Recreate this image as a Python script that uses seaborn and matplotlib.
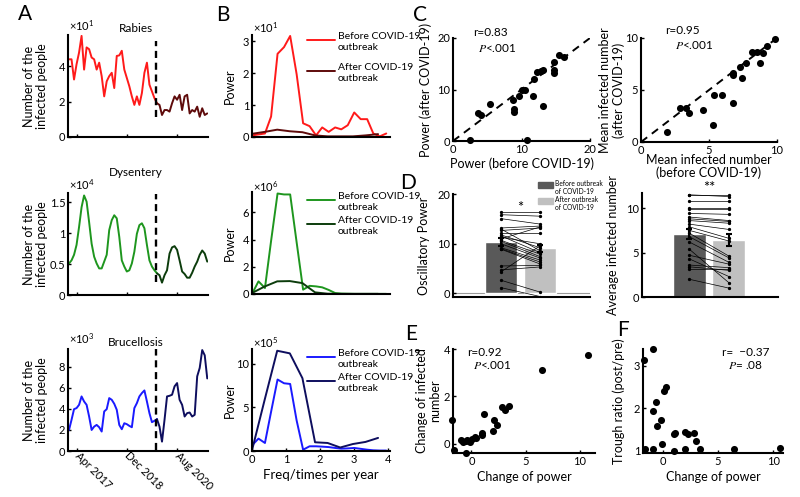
import pandas as pd
import seaborn as sns
import matplotlib.pyplot as plt
from matplotlib.lines import Line2D
from matplotlib.patches import Rectangle

W, H = 800, 497

# A: monthly infected numbers, Jan 2017 .. Aug 2021
months = list(range(56))
split = 35          # first month plotted in the "after" colour
onset = 34.6        # COVID-19 outbreak
month_ticks = [3, 23, 43]
month_labels = ['Apr 2017', 'Dec 2018', 'Aug 2020']

rabies = [4.38, 4.38, 3.24, 4.1, 4.76, 5.7, 3.8, 5.05, 4.95, 4.48, 4.38, 3.8, 4.19, 3.43,
          2.29, 3.14, 3.43, 3.62, 2.76, 4.57, 4.6, 4.86, 3.8, 3.33, 2.86, 2.29, 1.81, 2.29,
          1.81, 2.48, 3.62, 4.19, 2.95, 2.57, 2.19, 1.9,
          1.81, 1.24, 1.52, 1.52, 1.43, 1.9, 2.29, 2.1, 2.38, 1.52, 2.29, 2.38, 1.33, 1.52,
          1.43, 1.71, 1.14, 1.62, 1.24, 1.33]
dysentery = [0.51, 0.56, 0.65, 0.81, 1.10, 1.42, 1.61, 1.51, 1.18, 0.83, 0.62, 0.51, 0.43,
             0.43, 0.54, 0.65, 1.05, 1.21, 1.29, 1.24, 0.94, 0.56, 0.46, 0.38, 0.40, 0.51,
             0.70, 0.99, 1.13, 1.16, 1.08, 0.81, 0.56, 0.46, 0.40, 0.35,
             0.32, 0.20, 0.32, 0.40, 0.67, 0.77, 0.79, 0.73, 0.56, 0.38, 0.34, 0.28, 0.28,
             0.36, 0.46, 0.54, 0.65, 0.72, 0.67, 0.54]
brucellosis = [2.0, 2.96, 3.98, 4.08, 4.39, 5.19, 4.71, 4.39, 3.28, 2.0, 2.32, 2.48, 2.26,
               1.85, 3.76, 3.98, 5.03, 4.87, 4.49, 3.92, 2.48, 2.07, 2.64, 2.55, 2.39, 2.26,
               4.08, 4.55, 5.19, 5.51, 5.76, 4.71, 3.6, 2.74, 2.87, 3.03,
               2.32, 0.89, 2.96, 5.19, 5.25, 5.35, 6.15, 6.46, 4.87, 4.39, 3.28, 3.6, 3.66,
               3.28, 3.44, 7.1, 7.9, 9.6, 9.1, 6.9]

# B: power spectra (freq in times per year)
freq_pre = [0.0, 0.19, 0.38, 0.56, 0.75, 0.94, 1.12, 1.31, 1.5, 1.69, 1.88, 2.06, 2.25,
            2.44, 2.62, 2.81, 3.0, 3.19, 3.38, 3.56, 3.75, 3.94]
freq_post = [0.0, 0.37, 0.74, 1.11, 1.48, 1.85, 2.22, 2.59, 2.96, 3.33, 3.7]
rab_pw_pre = [0.05, 0.08, 0.11, 0.64, 2.61, 2.82, 3.17, 1.97, 0.43, 0.34, 0.05, 0.30, 0.16,
              0.30, 0.24, 0.37, 0.77, 0.56, 0.56, 0.11, 0.02, 0.11]
rab_pw_post = [0.10, 0.16, 0.23, 0.18, 0.15, 0.05, 0.02, 0.02, 0.02, 0.05, 0.09]
dys_pw_pre = [0.0, 0.93, 0.44, 3.9, 7.39, 7.32, 7.32, 3.8, 0.32, 0.6, 0.56, 0.49, 0.3,
              0.07, 0.03, 0.02, 0.01, 0.01, 0.01, 0.01, 0.01, 0.01]
dys_pw_post = [0.07, 0.55, 0.93, 0.95, 0.8, 0.12, 0.02, 0.01, 0.01, 0.01, 0.01]
bru_pw_pre = [0.65, 1.42, 0.92, 4.5, 8.2, 7.77, 7.69, 3.5, 0.15, 0.54, 0.54, 0.5, 0.45,
              0.35, 0.27, 0.3, 0.35, 0.25, 0.15, 0.08, 0.05, 0.05]
bru_pw_post = [0.08, 5.85, 11.5, 11.2, 8.35, 1.0, 0.92, 0.4, 0.8, 1.04, 1.5]

# C: per-disease comparison before / after
pw_before = [2.44, 3.66, 4.15, 5.46, 8.78, 8.88, 8.88, 9.66, 10.0, 10.5, 10.8, 11.7, 11.8,
             12.3, 12.8, 13.2, 13.2, 14.8, 14.8, 14.8, 15.5, 16.2]
pw_after = [0.26, 5.4, 5.07, 7.24, 8.0, 6.2, 5.6, 8.7, 9.9, 10.0, 0.26, 8.8, 12.1, 13.4,
            13.6, 13.8, 6.8, 13.8, 13.2, 15.4, 16.7, 16.4]
mean_before = [1.91, 2.84, 3.33, 3.5, 4.56, 5.29, 5.39, 5.96, 6.76, 6.76, 6.76, 7.3, 7.43,
               7.75, 8.16, 8.53, 8.73, 8.97, 9.26, 9.88]
mean_after = [0.98, 3.26, 3.26, 2.83, 3.09, 1.63, 4.5, 4.5, 3.75, 6.42, 6.61, 7.17, 6.12,
              7.59, 8.63, 8.63, 7.59, 8.53, 9.22, 9.93]

# D: paired bars
groups = ['Before outbreak\nof COVID-19', 'After outbreak\nof COVID-19']
osc_pre = [16.4, 15.9, 15.1, 13.2, 12.7, 12.2, 11.8, 11.6, 11.0, 10.7, 10.5, 10.0, 9.2,
           8.9, 5.5, 4.7, 4.3, 2.6, 1.1, 13.0, 9.0, 11.3]
osc_post = [16.4, 15.6, 14.0, 13.6, 13.2, 12.2, 9.2, 8.2, 13.4, 7.9, 7.4, 7.1, 6.7, 5.9,
            5.6, 5.3, 9.6, 0.2, -0.7, 8.6, 6.3, 10.0]
osc_mean = [10.4, 9.1]
osc_sem = [0.8, 0.75]
avg_pre = [11.5, 10.8, 10.0, 9.4, 9.0, 8.8, 8.6, 8.2, 7.9, 7.5, 7.2, 6.8, 6.2, 5.4, 4.7,
           4.3, 3.6, 3.4, 3.1, 2.0, 11.5, 9.9]
avg_post = [11.5, 10.8, 10.0, 9.3, 8.6, 8.5, 8.3, 7.6, 6.6, 6.3, 4.6, 4.4, 3.9, 1.6, 3.7,
            2.3, 3.3, 3.0, 3.1, 1.0, 11.3, 9.9]
avg_mean = [7.1, 6.4]
avg_sem = [0.6, 0.65]

# E, F
e_dpower = [-1.75, -1.63, -0.92, -0.77, -0.52, -0.46, -0.4, -0.15, 0.09, 0.37, 0.4, 1.02,
            1.02, 1.14, 2.0, 2.06, 2.37, 2.86, 3.08, 3.48, 6.55, 10.77]
e_dinfected = [0.99, -0.25, 0.14, 0.06, 0.1, -0.37, 0.14, 0.06, 0.2, 0.28, 0.24, 0.38,
               0.45, 1.27, 0.55, 1.01, 0.8, 1.55, 1.44, 1.61, 3.1, 3.76]
f_dpower = [-1.76, -1.67, -0.91, -0.91, -0.91, -0.61, -0.52, -0.21, -0.09, 0.06, 0.3, 0.97,
            1.06, 1.0, 1.97, 1.97, 2.27, 2.79, 3.03, 3.33, 6.42, 10.6]
f_trough = [3.13, 1.04, 3.4, 1.04, 1.94, 2.15, 1.57, 1.71, 1.16, 2.41, 2.51, 1.4, 1.41,
            0.98, 1.04, 1.44, 1.38, 1.42, 1.22, 1.04, 1.04, 1.06]

RED, DRED = '#ff1a1a', '#5e0a0a'
GRN, DGRN = '#1e961e', '#0c3c0c'
BLU, DBLU = '#1a1aff', '#0e0e5e'
BAR_DARK, BAR_LIGHT = '#595959', '#c0c0c0'
LAB = 9

sns.set_style('ticks')
plt.rcParams['font.family'] = ['Lato', 'DejaVu Sans']
plt.rcParams.update({
    'mathtext.fontset': 'stix',
    'axes.linewidth': 1.5, 'axes.edgecolor': 'black',
    'text.color': 'black', 'axes.labelcolor': 'black',
    'xtick.color': 'black', 'ytick.color': 'black',
    'xtick.direction': 'in', 'ytick.direction': 'in',
    'xtick.major.size': 2.5, 'ytick.major.size': 2.5,
    'xtick.major.width': 1, 'ytick.major.width': 1,
    'xtick.major.pad': 2, 'ytick.major.pad': 2,
    'xtick.labelsize': 8, 'ytick.labelsize': 8,
    'font.size': 9, 'axes.labelsize': LAB,
})

fig = plt.figure(figsize=(8, 4.97), dpi=100)


def px_axes(l, t, r, b):
    return fig.add_axes([l / W, 1 - b / H, (r - l) / W, (b - t) / H])


def ftext(x, y, s, **kw):
    return fig.text(x / W, 1 - y / H, s, **kw)


def ylab(ax, text, x, **kw):
    ax.set_ylabel(text, linespacing=1.1, **kw)
    ax.yaxis.set_label_coords(x, 0.5)


# ---------- A ----------
a_rows = [
    (rabies, RED, DRED, 35, 137, 5.75, [0, 2, 4], ['0', '2', '4'], (1.1, 5.4),
     'Rabies', 28, '1', 26),
    (dysentery, GRN, DGRN, 193, 295, 1.65, [0, 0.5, 1, 1.5], ['0', '0.5', '1', '1.5'],
     (0.21, 1.64), 'Dysentery', 173, '4', 185),
    (brucellosis, BLU, DBLU, 349, 451, 9.7, [0, 2, 4, 6, 8], ['0', '2', '4', '6', '8'],
     (0.1, 9.7), 'Brucellosis', 342, '3', 339),
]
for i, (vals, c0, c1, top, bot, ymax, yt, ytl, span, title, ty, ex, ey) in enumerate(a_rows):
    ax = px_axes(68, top, 208, bot)
    pre = pd.DataFrame({'month': months[:split + 1], 'n': vals[:split + 1]})
    post = pd.DataFrame({'month': months[split:], 'n': vals[split:]})
    sns.lineplot(data=pre, x='month', y='n', color=c0, lw=1.4, ax=ax)
    sns.lineplot(data=post, x='month', y='n', color=c1, lw=1.4, ax=ax)
    ax.vlines(onset, span[0], span[1], colors='k', linestyles=(0, (3, 2)), lw=1.7)
    ax.set_xlim(-0.4, 55.3)
    ax.set_ylim(0, ymax)
    ax.set_yticks(yt, ytl)
    ax.set_xticks(month_ticks)
    if i == 2:
        ax.set_xticklabels(month_labels, rotation=-45, ha='left', va='center',
                           rotation_mode='anchor', fontsize=8)
    else:
        ax.set_xticklabels([])
    ax.set_xlabel('')
    ylab(ax, 'Number of the\ninfected people', -0.145)
    sns.despine(ax=ax)
    ftext(136, ty, title, ha='center', va='center', fontsize=8.5)
    ftext(69, ey, '×10$\\mathregular{^{%s}}$' % ex, ha='left', va='center', fontsize=8)

# ---------- B ----------
b_rows = [
    (rab_pw_pre, rab_pw_post, RED, DRED, 35, 137, 3.2, [0, 1, 2, 3], '1', 28, 40, 30),
    (dys_pw_pre, dys_pw_post, GRN, DGRN, 192, 294, 7.5, [0, 2, 4, 6], '6', 187, 200, 23),
    (bru_pw_pre, bru_pw_post, BLU, DBLU, 349, 451, 11.7, [0, 5, 10], '5', 343, 357, 23),
]
for i, (p0, p1, c0, c1, top, bot, ymax, yt, ex, ey, ly, lgap) in enumerate(b_rows):
    ax = px_axes(252, top, 390, bot)
    sns.lineplot(x=freq_pre, y=p0, color=c0, lw=1.4, ax=ax)
    sns.lineplot(x=freq_post, y=p1, color=c1, lw=1.4, ax=ax)
    ax.set_xlim(0, 4.05)
    ax.set_ylim(0, ymax)
    ax.set_yticks(yt)
    if i == 2:
        ax.set_xticks([0, 1, 2, 3, 4])
        ax.set_xlabel('Freq/times per year', fontsize=9.5, labelpad=3)
    else:
        ax.set_xticks([])
    ylab(ax, 'Power', -0.12)
    sns.despine(ax=ax)
    ftext(253, ey, '×10$\\mathregular{^{%s}}$' % ex, ha='left', va='center', fontsize=8)
    for k, (col, lab) in enumerate([(c0, 'Before COVID-19\noutbreak'),
                                    (c1, 'After COVID-19\noutbreak')]):
        yy = ly + k * (24 + lgap - 23)
        fig.add_artist(Line2D([307 / W, 335 / W], [1 - yy / H] * 2, color=col, lw=1.4))
        ftext(338, yy, lab, ha='left', va='center_baseline', fontsize=7.5, linespacing=1.25)

# ---------- C ----------
axc1 = px_axes(453, 38, 590, 141)
sns.scatterplot(x=pw_before, y=pw_after, color='k', s=26, linewidth=0, clip_on=False, ax=axc1)
axc1.axline((0, 0), slope=1, color='k', ls=(0, (4, 3)), lw=1.4)
axc1.set_xlim(0, 20)
axc1.set_ylim(0, 20)
axc1.set_xticks([0, 10, 20])
axc1.set_yticks([0, 10, 20])
axc1.set_xlabel('Power (before COVID-19)', labelpad=2)
ylab(axc1, 'Power (after COVID-19)', -0.15)
sns.despine(ax=axc1)
ftext(473, 33, 'r=0.83', fontsize=8.5, va='center')
ftext(478, 48, '$\\mathit{P}$<.001', fontsize=8.5, va='center')

axc2 = px_axes(641, 38, 777, 142)
sns.scatterplot(x=mean_before, y=mean_after, color='k', s=26, linewidth=0, clip_on=False, ax=axc2)
axc2.axline((0, 0), slope=1, color='k', ls=(0, (4, 3)), lw=1.4)
axc2.set_xlim(0, 10)
axc2.set_ylim(0, 10)
axc2.set_xticks([0, 5, 10])
axc2.set_yticks([0, 5, 10])
axc2.set_xlabel('Mean infected number\n(before COVID-19)', labelpad=-1, linespacing=1.05)
ylab(axc2, 'Mean infected number\n(after COVID-19)', -0.12)
sns.despine(ax=axc2)
ftext(665, 30, 'r=0.95', fontsize=8.5, va='center')
ftext(675, 45, '$\\mathit{P}$<.001', fontsize=8.5, va='center')

# ---------- D ----------
def paired_panel(ax, pre, post, means, sems):
    sns.barplot(x=groups, y=means, hue=groups, palette=[BAR_DARK, BAR_LIGHT], width=0.83,
                legend=False, ax=ax)
    long = pd.DataFrame({'id': list(range(len(pre))) * 2,
                         'pos': [0] * len(pre) + [1] * len(post),
                         'val': pre + post})
    sns.lineplot(data=long, x='pos', y='val', units='id', estimator=None, color='k',
                 lw=0.5, marker='o', ms=1.6, mec='k', ax=ax)
    ax.errorbar([0, 1], means, yerr=sems, fmt='none', ecolor='k', elinewidth=1.5,
                capsize=2.5, capthick=1.5)
    ax.set_xticks([])
    ax.set_xlabel('')
    sns.despine(ax=ax)


axd1 = px_axes(453, 194, 590, 297)
paired_panel(axd1, osc_pre, osc_post, osc_mean, osc_sem)
axd1.axhline(0, color='#9a9a9a', lw=0.8, zorder=0)
axd1.set_xlim(-1.23, 2.28)
axd1.set_ylim(-0.8, 20.1)
axd1.set_yticks([0, 10, 20])
ylab(axd1, 'Oscillatory Power', -0.17)
axd1.text(0.5, 17.2, '*', ha='center', va='center', fontsize=10.5)
for k, (col, lab) in enumerate(zip([BAR_DARK, BAR_LIGHT], groups)):
    yy = 182 + k * 16
    fig.add_artist(Rectangle((538 / W, 1 - (yy + 6) / H), 15 / W, 6 / H, color=col))
    ftext(555, yy - 2, lab, ha='left', va='top', fontsize=4.8, linespacing=1.1)

axd2 = px_axes(642, 193, 778, 297)
paired_panel(axd2, avg_pre, avg_post, avg_mean, avg_sem)
axd2.set_xlim(-1.18, 2.23)
axd2.set_ylim(0, 11.7)
axd2.set_yticks([0, 5, 10])
ylab(axd2, 'Average infected number', -0.17)
axd2.text(0.5, 12.3, '**', ha='center', va='center', fontsize=10.5)

# ---------- E ----------
axe = px_axes(453, 349, 595, 453)
sns.scatterplot(x=e_dpower, y=e_dinfected, color='k', s=26, linewidth=0, clip_on=False, ax=axe)
axe.set_xlim(-1.7, 11.4)
axe.set_ylim(-0.39, 4.0)
axe.set_xticks([0, 5, 10])
axe.set_yticks([0, 2, 4])
axe.set_xlabel('Change of power', labelpad=3)
ylab(axe, 'Change of infected\nnumber', -0.085)
sns.despine(ax=axe)
ftext(467, 352, 'r=0.92', fontsize=8.5, va='center')
ftext(473, 365, '$\\mathit{P}$<.001', fontsize=8.5, va='center')

# ---------- F ----------
axf = px_axes(643, 349, 783, 453)
sns.scatterplot(x=f_dpower, y=f_trough, color='k', s=26, linewidth=0, clip_on=False, ax=axf)
axf.set_xlim(-1.82, 10.9)
axf.set_ylim(0.94, 3.4)
axf.set_xticks([0, 5, 10])
axf.set_yticks([1, 2, 3])
axf.set_xlabel('Change of power', labelpad=3)
ylab(axf, 'Trough ratio (post/pre)', -0.13)
sns.despine(ax=axf)
ftext(722, 352, 'r=  \u22120.37', fontsize=8.5, va='center')
ftext(728, 365, '$\\mathit{P}$= .08', fontsize=8.5, va='center')

# panel letters
for letter, x, y in [('A', 25, 14), ('B', 223, 15), ('C', 420, 15), ('D', 408, 183),
                     ('E', 411, 334), ('F', 623, 330)]:
    ftext(x, y, letter, ha='center', va='center', fontsize=15)

fig.savefig('out.png', dpi=100)
